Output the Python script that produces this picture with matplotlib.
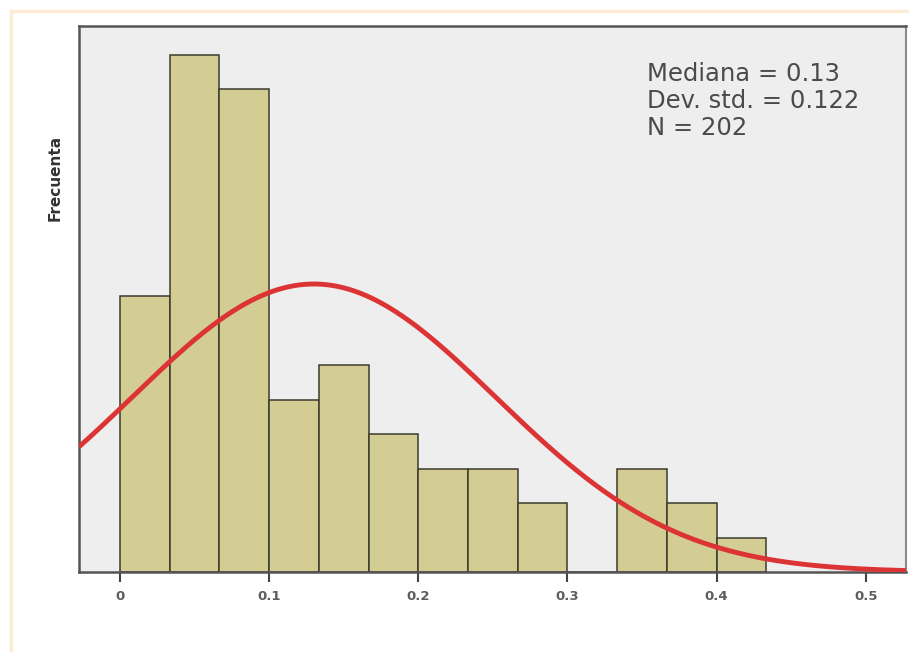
import numpy as np
import matplotlib
matplotlib.use("Agg")
import matplotlib.pyplot as plt
from matplotlib.lines import Line2D

# Histogram counts per bin (bin width 1/30, starting at 0)
bin_width = 1 / 30
counts = [8, 15, 14, 5, 6, 4, 3, 3, 2, 0, 3, 2, 1]
bin_left = [i * bin_width for i in range(len(counts))]

# Summary statistics shown in the box
median_val = 0.13
std_val = 0.122
n_total = 202
curve_peak = 8.35  # height of the fitted normal curve, in count units

tick_values = [0, 0.1, 0.2, 0.3, 0.4, 0.5]
tick_labels = ["0", "0.1", "0.2", "0.3", "0.4", "0.5"]

W, H = 909, 654
fig = plt.figure(figsize=(W / 100, H / 100), dpi=100)
fig.patch.set_facecolor("white")

# soft frame along the top and left edge
fig.add_artist(Line2D([11 / W, 1.0], [1 - 11 / H, 1 - 11 / H], transform=fig.transFigure,
                      color="#fcecd6", lw=2.5))
fig.add_artist(Line2D([11 / W, 11 / W], [1 - 11 / H, 4 / H], transform=fig.transFigure,
                      color="#fcecd6", lw=2.5))

left, right, top, bottom = 79, 906, 26, 572
ax = fig.add_axes([left / W, 1 - bottom / H, (right - left) / W, (bottom - top) / H])
ax.set_facecolor("#eeeeee")

ax.bar(bin_left, counts, width=bin_width, align="edge", color="#d3cd94",
       edgecolor="#3b3a2c", linewidth=1.1, zorder=2)

x0, x1 = -0.0275, 0.527
xs = np.linspace(x0, x1, 600)
ys = curve_peak * np.exp(-((xs - median_val) ** 2) / (2 * std_val ** 2))
ax.plot(xs, ys, color="#dc3434", lw=3.5, zorder=3, solid_capstyle="butt")

ax.set_xlim(x0, x1)
ax.set_ylim(0, 15.83)
ax.set_yticks([])
ax.set_xticks(tick_values)
ax.set_xticklabels(tick_labels, fontsize=9.5, fontweight="bold", color="#5e5e5e",
                   family="DejaVu Sans")
ax.tick_params(axis="x", direction="out", length=7, width=1.5, color="#444444", pad=6)

for side in ["left", "bottom", "top"]:
    ax.spines[side].set_color("#555555")
    ax.spines[side].set_linewidth(1.8)
ax.spines["right"].set_color("#8a8a8a")
ax.spines["right"].set_linewidth(1.5)

ax.text(647 / W, 1 - 62 / H,
        f"Mediana = {median_val}\nDev. std. = {std_val}\nN = {n_total}",
        transform=fig.transFigure, ha="left", va="top", fontsize=17.5,
        family="DejaVu Sans", color="#4a4a4a", linespacing=1.15)

fig.text(55 / W, 1 - 178 / H, "Frecuenta", rotation=90, ha="center", va="center",
         fontsize=11, fontweight="bold", color="#333333", family="DejaVu Sans")

fig.savefig("out.png", dpi=100)
